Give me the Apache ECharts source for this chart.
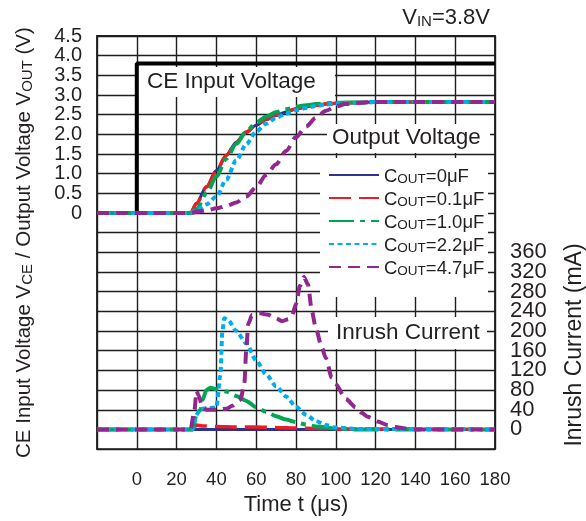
<!DOCTYPE html>
<html><head><meta charset="utf-8">
<script src="https://cdn.jsdelivr.net/npm/echarts@6/dist/echarts.min.js"></script>
<style>html,body{margin:0;padding:0;background:#fff}#c{width:586px;height:521px}</style>
</head><body><div id="c"></div>
<script>
const FONT = "'Liberation Sans', Arial, Helvetica, sans-serif";
const TXT = '#231f20';
const GRID = '#1e1e1e';

// ---------- data ----------
const capNames = ['COUT=0μF', 'COUT=0.1μF', 'COUT=1.0μF', 'COUT=2.2μF', 'COUT=4.7μF'];
const capColors = ['#2e3192', '#ed1c24', '#00a651', '#00aeef', '#92278f'];

// CE input voltage (V)
const ceTime = [-20, 0, 0, 180];
const ceVolt = [0, 0, 3.8, 3.8];

// Output voltage (V)
const voutTime = [-20, 27, 30, 35, 40, 45, 50, 55, 60, 65, 70, 75, 80, 85, 90, 95, 100, 105, 110, 120, 140, 180];
const vout0  = [0, 0, 0.25, 0.67, 1.08, 1.47, 1.80, 2.05, 2.23, 2.37, 2.48, 2.57, 2.64, 2.70, 2.74, 2.77, 2.79, 2.80, 2.81, 2.82, 2.82, 2.82];
const vout01 = [0, 0, 0.24, 0.66, 1.07, 1.47, 1.81, 2.06, 2.25, 2.39, 2.50, 2.58, 2.65, 2.70, 2.74, 2.77, 2.79, 2.80, 2.81, 2.82, 2.82, 2.82];
const vout10 = [0, 0, 0.10, 0.50, 0.93, 1.38, 1.76, 2.07, 2.30, 2.45, 2.56, 2.64, 2.70, 2.74, 2.77, 2.79, 2.80, 2.81, 2.81, 2.82, 2.82, 2.82];
const vout22 = [0, 0, 0.08, 0.22, 0.42, 0.85, 1.34, 1.75, 2.07, 2.27, 2.42, 2.53, 2.61, 2.67, 2.72, 2.76, 2.78, 2.79, 2.80, 2.82, 2.82, 2.82];
const vout47 = [0, 0, 0.03, 0.07, 0.12, 0.18, 0.27, 0.42, 0.66, 0.97, 1.24, 1.58, 1.93, 2.20, 2.42, 2.60, 2.71, 2.77, 2.80, 2.82, 2.82, 2.82];

// Inrush current (mA)
const iTime0  = [-20, 180];
const iin0    = [0, 0];
const iTime01 = [-20, 28, 30, 33, 40, 50, 60, 70, 80, 90, 100, 180];
const iin01   = [0, 0, 9, 7, 6, 5, 5, 4, 3, 2, 1, 0];
const iTime10 = [-20, 28, 30, 32, 33, 35, 37, 40, 45, 50, 55, 60, 65, 70, 75, 80, 85, 90, 100, 110, 180];
const iin10   = [0, 0, 30, 40, 60, 80, 85, 82, 77, 68, 58, 45, 36, 27, 20, 15, 10, 6, 2, 0, 0];
const iTime22 = [-20, 28, 30, 32, 36, 40, 42, 43, 44, 46, 50, 55, 60, 65, 70, 75, 80, 85, 90, 95, 100, 110, 180];
const iin22   = [0, 0, 30, 42, 43, 45, 110, 200, 226, 222, 200, 175, 140, 112, 88, 67, 46, 30, 17, 9, 4, 1, 0];
const iTime47 = [-20, 27, 29, 30, 31, 33, 35, 40, 45, 48, 52, 54, 55, 56, 58, 62, 66, 70, 73, 76, 78, 80, 82, 84, 86, 88, 90, 93, 95, 98, 100, 105, 110, 113, 116, 121, 126, 130, 135, 140, 180];
const iin47   = [0, 0, 40, 78, 70, 45, 40, 40, 42, 48, 60, 90, 160, 215, 233, 236, 233, 226, 220, 224, 232, 255, 292, 310, 295, 240, 205, 166, 145, 105, 92, 62, 45, 34, 26, 16, 9, 5, 2, 0, 0];

const voutTimes = [voutTime, voutTime, voutTime, voutTime, voutTime];
const voutVals = [vout0, vout01, vout10, vout22, vout47];
const iinTimes = [iTime0, iTime01, iTime10, iTime22, iTime47];
const iinVals = [iin0, iin01, iin10, iin22, iin47];

// ---------- styles ----------
const lineStyles = [
  { width: 3, type: 'solid' },
  { width: 3.5, type: [22, 8] },
  { width: 4, type: [25, 6, 5, 6] },
  { width: 4, type: [5, 3.5] },
  { width: 4, type: [12, 7] }
];

const pairs = (t, v) => t.map((x, i) => [x, v[i]]);

const series = [{
  name: 'CE', type: 'line', yAxisIndex: 0, symbol: 'none', silent: true,
  data: pairs(ceTime, ceVolt),
  lineStyle: { color: '#000', width: 4 }, z: 2
}];
capNames.forEach((nm, k) => {
  series.push({
    name: nm, type: 'line', yAxisIndex: 0, symbol: 'none', smooth: 0.3, smoothMonotone: 'x',
    data: pairs(voutTimes[k], voutVals[k]),
    itemStyle: { color: capColors[k] },
    lineStyle: Object.assign({ color: capColors[k] }, lineStyles[k]), z: 3
  });
  series.push({
    name: nm, type: 'line', yAxisIndex: 1, symbol: 'none', smooth: 0.25, smoothMonotone: 'x',
    data: pairs(iinTimes[k], iinVals[k]),
    itemStyle: { color: capColors[k] },
    lineStyle: Object.assign({ color: capColors[k] }, lineStyles[k]), z: 3
  });
});

const big = (fs, lh) => ({ fontSize: fs, lineHeight: lh, fontFamily: FONT, fontWeight: 'normal', color: TXT, verticalAlign: 'bottom' });
const voltLabel = { fontSize: 20, fontFamily: FONT, color: TXT, margin: 15 };

const chart = echarts.init(document.getElementById('c'), null, { renderer: 'canvas' });
chart.setOption({
  animation: false,
  backgroundColor: '#fff',
  title: {
    text: '{a|V}{b|IN}{a|=3.8V}',
    right: 91, top: 0,
    textStyle: { fontWeight: 'normal', rich: { a: big(22, 24), b: big(15, 20) } }
  },
  grid: { left: 97, right: 91, top: 36, bottom: 66, show: true, borderColor: GRID, borderWidth: 1.8, backgroundColor: 'transparent' },
  legend: {
    data: capNames,
    orient: 'vertical', left: 320, top: 158,
    padding: [9, 8, 4, 8],
    itemWidth: 50, itemHeight: 14, itemGap: 4,
    selectedMode: false,
    itemStyle: { opacity: 0 },
    formatter: name => '{c|C}{s|OUT}{c|' + name.slice(4) + '}',
    textStyle: { rich: { c: big(18.5, 22), s: big(13.5, 19) } }
  },
  xAxis: {
    type: 'value', min: -20, max: 180, interval: 20,
    axisLine: { show: false }, axisTick: { show: false },
    splitLine: { show: true, lineStyle: { color: GRID, width: 1.4 } },
    axisLabel: { formatter: v => (v < 0 ? '' : String(v)), fontSize: 18.5, fontFamily: FONT, color: TXT, margin: 21, showMaxLabel: true },
    name: 'Time t (μs)', nameLocation: 'middle', nameGap: 43,
    nameTextStyle: { fontSize: 22, fontFamily: FONT, color: TXT }
  },
  yAxis: [{
    type: 'value', min: -6, max: 4.5, interval: 0.5, position: 'left',
    axisLine: { show: false }, axisTick: { show: false },
    splitLine: { show: true, lineStyle: { color: GRID, width: 1.4 } },
    axisLabel: Object.assign({
      formatter: v => (v < 0 || v > 4.2 ? '' : (v === 0 ? '0' : v.toFixed(1)))
    }, voltLabel),
    name: '{a|CE Input Voltage V}{s|CE}{a| / Output Voltage V}{s|OUT}{a| (V)}',
    nameLocation: 'middle', nameGap: 62,
    nameTextStyle: { rich: { a: big(20.5, 24), s: big(15, 20) } }
  }, {
    type: 'value', min: -40, max: 800, interval: 40, position: 'right',
    axisLine: { show: false }, axisTick: { show: false },
    splitLine: { show: false },
    axisLabel: {
      formatter: v => (v >= 0 && v <= 360 ? String(v) : ''),
      fontSize: 22, lineHeight: 16, fontFamily: FONT, color: TXT, margin: 15, hideOverlap: false
    }
  }, {
    type: 'value', min: -6, max: 4.5, interval: 0.5, position: 'left',
    axisLine: { show: false }, axisTick: { show: false }, splitLine: { show: false },
    axisLabel: Object.assign({
      formatter: v => (v > 4.2 ? v.toFixed(1) : ''), showMaxLabel: true
    }, voltLabel)
  }],
  graphic: [
    { type: 'rect', z: 1, shape: { x: 138, y: 67, width: 197, height: 30 }, style: { fill: '#fff' } },
    { type: 'text', z: 1, z2: 10, x: 147, y: 82, style: { text: 'CE Input Voltage', fontSize: 22.5, fontFamily: FONT, fill: TXT, align: 'left', verticalAlign: 'middle' } },
    { type: 'rect', z: 1, shape: { x: 327, y: 124, width: 163, height: 29 }, style: { fill: '#fff' } },
    { type: 'text', z: 1, z2: 10, x: 332, y: 138, style: { text: 'Output Voltage', fontSize: 22.5, fontFamily: FONT, fill: TXT, align: 'left', verticalAlign: 'middle' } },
    { type: 'rect', z: 1, shape: { x: 320, y: 158, width: 168, height: 139 }, style: { fill: '#fff' } },
    { type: 'rect', z: 1, shape: { x: 328, y: 317, width: 159, height: 32 }, style: { fill: '#fff' } },
    { type: 'text', z: 1, z2: 10, x: 336, y: 333, style: { text: 'Inrush Current', fontSize: 22.5, fontFamily: FONT, fill: TXT, align: 'left', verticalAlign: 'middle' } },
    { type: 'text', z: 1, x: 575, y: 345, rotation: Math.PI / 2, style: { text: 'Inrush Current (mA)', fontSize: 23, fontFamily: FONT, fill: TXT, align: 'center', verticalAlign: 'middle' } }
  ],
  series: series
});
</script></body></html>
